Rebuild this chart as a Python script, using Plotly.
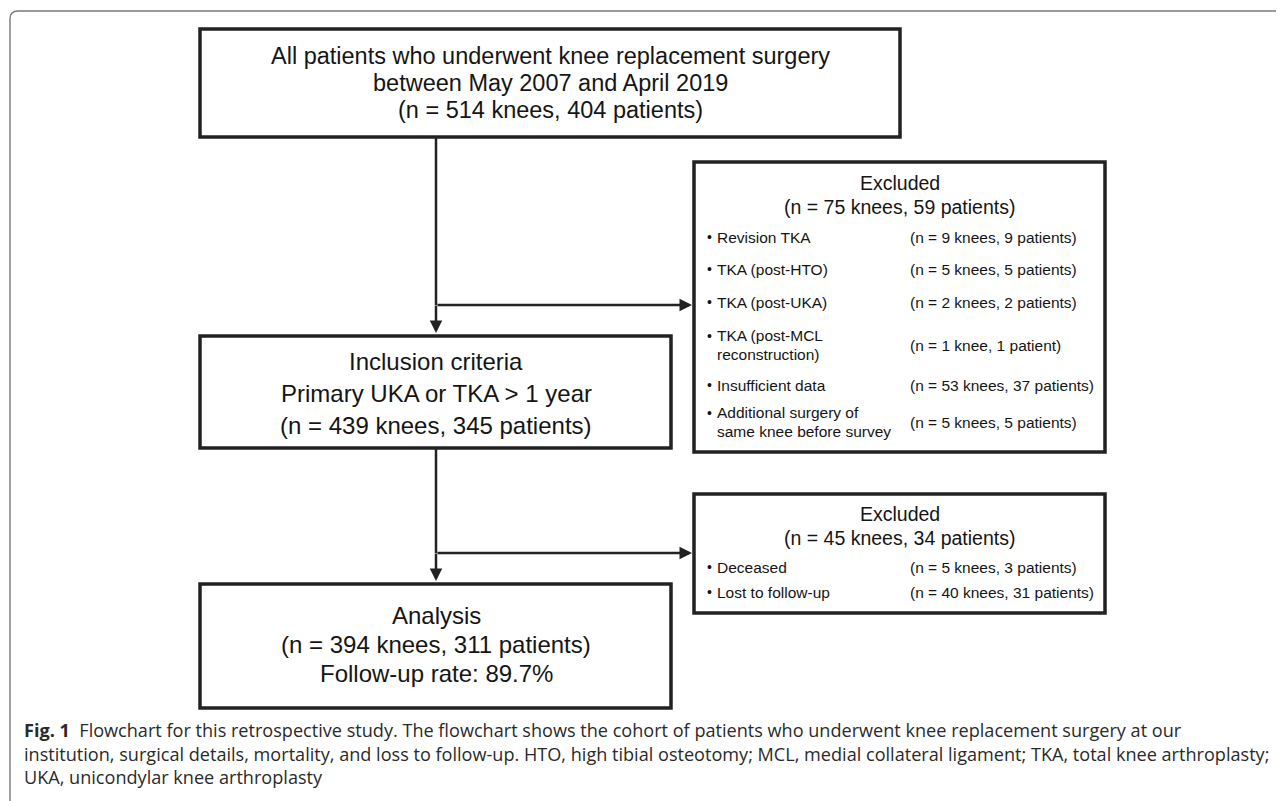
import plotly.graph_objects as go

# ---- content ----
top_lines = ["All patients who underwent knee replacement surgery",
             "between May 2007 and April 2019",
             "(n = 514 knees, 404 patients)"]
incl_lines = ["Inclusion criteria",
              "Primary UKA or TKA > 1 year",
              "(n = 439 knees, 345 patients)"]
analysis_lines = ["Analysis",
                  "(n = 394 knees, 311 patients)",
                  "Follow-up rate: 89.7%"]
excl1_header = ["Excluded", "(n = 75 knees, 59 patients)"]
excl1_reasons = [["Revision TKA"], ["TKA (post-HTO)"], ["TKA (post-UKA)"],
                 ["TKA (post-MCL", "reconstruction)"], ["Insufficient data"],
                 ["Additional surgery of", "same knee before survey"]]
excl1_counts = ["(n = 9 knees, 9 patients)", "(n = 5 knees, 5 patients)",
                "(n = 2 knees, 2 patients)", "(n = 1 knee, 1 patient)",
                "(n = 53 knees, 37 patients)", "(n = 5 knees, 5 patients)"]
excl2_header = ["Excluded", "(n = 45 knees, 34 patients)"]
excl2_reasons = [["Deceased"], ["Lost to follow-up"]]
excl2_counts = ["(n = 5 knees, 3 patients)", "(n = 40 knees, 31 patients)"]
caption_lines = [
    "<b>Fig. 1</b>  Flowchart for this retrospective study. The flowchart shows the cohort of patients who underwent knee replacement surgery at our",
    "institution, surgical details, mortality, and loss to follow-up. HTO, high tibial osteotomy; MCL, medial collateral ligament; TKA, total knee arthroplasty;",
    "UKA, unicondylar knee arthroplasty",
]

W, H = 1284, 801
OFF = 8  # page body margin
FONT = "Liberation Sans, Arial, sans-serif"
INK = "#151515"
BORDER = "#222222"

fig = go.Figure()
shapes = []
ann = []

def box(x0, y0, x1, y1):
    shapes.append(dict(type="rect", xref="x", yref="y", x0=x0, y0=y0, x1=x1, y1=y1,
                       line=dict(color=BORDER, width=3.5), fillcolor="rgba(0,0,0,0)"))

def text(x, y, s, size, anchor="center", color=INK, family=FONT):
    ann.append(dict(x=x, y=y, xref="x", yref="y", text=s, showarrow=False,
                    xanchor=anchor, yanchor="middle", align="left" if anchor == "left" else "center",
                    font=dict(family=family, size=size, color=color)))

def line(x0, y0, x1, y1):
    shapes.append(dict(type="line", xref="x", yref="y", x0=x0, y0=y0, x1=x1, y1=y1,
                       line=dict(color=BORDER, width=2.5)))

def arrow(x0, y0, x1, y1):
    ann.append(dict(x=x1, y=y1, ax=x0, ay=y0, xref="x", yref="y", axref="x", ayref="y",
                    text="", showarrow=True, arrowhead=2, arrowsize=1.0, arrowwidth=2.5,
                    arrowcolor=BORDER, standoff=0, startstandoff=0))

# outer frame (open at right and bottom)
shapes.append(dict(type="path", xref="x", yref="y",
                   path="M 10 805 L 10 19 Q 10 11 18 11 L 1290 11",
                   line=dict(color="#7a7a7a", width=1.4)))

LX0, LX1 = 200, 671
CX = 436

# top box (wider than the boxes below)
TX1 = 900
box(LX0, 29, TX1, 137)
for i, s in enumerate(top_lines):
    text((LX0 + TX1) / 2, 56 + 27 * i, s, 23.5)

# inclusion box
box(LX0, 336, LX1, 448)
for i, s in enumerate(incl_lines):
    text(CX, 361 + 32 * i, s, 24)

# analysis box
box(LX0, 584, LX1, 708)
for i, s in enumerate(analysis_lines):
    text(CX, 615 + 29 * i, s, 24)

# connectors
line(CX, 137, CX, 305)
arrow(CX, 304, CX, 333)
arrow(CX, 305, 692, 305)
line(CX, 448, CX, 553)
arrow(CX, 552, CX, 581)
arrow(CX, 553, 692, 553)

# excluded boxes
EX0, EX1 = 694, 1105
ECX = (EX0 + EX1) / 2

def excl_rows(rows, reasons, counts):
    for y, r, c in zip(rows, reasons, counts):
        n = len(r)
        y0 = y - (n - 1) * 9.5
        text(705, y0, "•", 14, anchor="left")
        for k, part in enumerate(r):
            text(715, y0 + 19 * k, part, 15.5, anchor="left")
        text(908, y, c, 15.5, anchor="left")

box(EX0, 162, EX1, 452)
text(ECX, 183, excl1_header[0], 19.5)
text(ECX, 207, excl1_header[1], 19.5)
excl_rows([237, 269, 302, 345, 385, 422], excl1_reasons, excl1_counts)

box(EX0, 494, EX1, 613)
text(ECX, 514, excl2_header[0], 19.5)
text(ECX, 538, excl2_header[1], 19.5)
excl_rows([567, 592], excl2_reasons, excl2_counts)

# caption
for i, s in enumerate(caption_lines):
    text(22, 730 + 23.5 * i, s, 18.1, anchor="left", color="#2a2a2a", family="Open Sans, sans-serif")

fig.update_layout(
    width=W - OFF, height=H - OFF, margin=dict(l=0, r=0, t=0, b=0),
    paper_bgcolor="white", plot_bgcolor="white",
    xaxis=dict(range=[OFF, W], visible=False, fixedrange=True),
    yaxis=dict(range=[H, OFF], visible=False, fixedrange=True),
    shapes=shapes, annotations=ann, showlegend=False,
)
fig.write_html("out.html", config={"displayModeBar": False})
